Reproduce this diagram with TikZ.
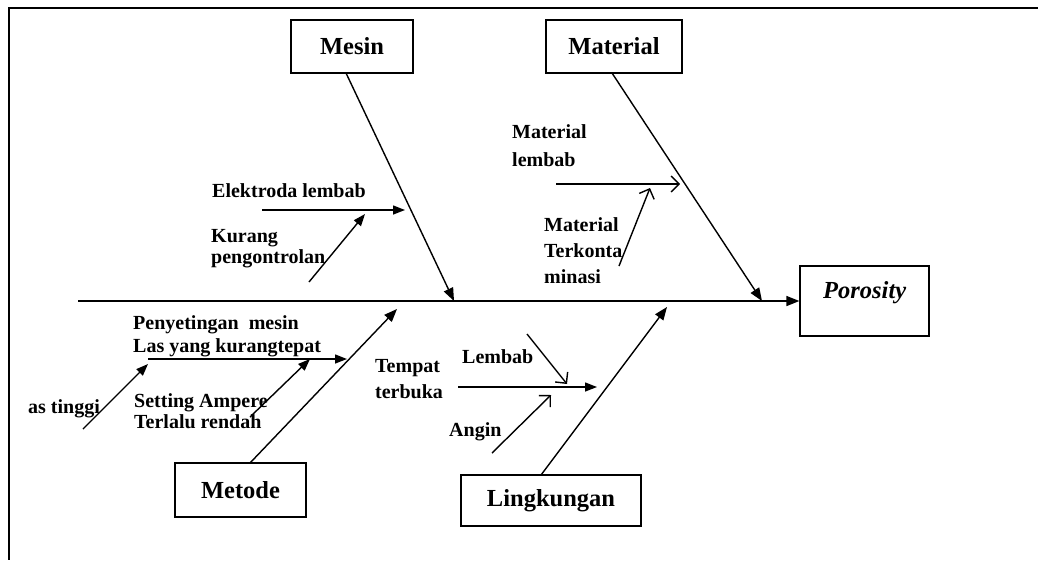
\documentclass[tikz,border=0pt]{standalone}
\usepackage{fontspec}
\setmainfont{Liberation Serif}
\usetikzlibrary{arrows.meta}
\begin{document}
\begin{tikzpicture}[x=1pt,y=-1pt,
  catbox/.style={draw,line width=1.2pt,rectangle,inner sep=0pt,font=\fontsize{24.5}{28}\selectfont\bfseries},
  bone/.style={line width=1.4pt,-{Triangle[length=13pt,width=10pt]}},
  sub/.style={line width=1.4pt,-{Triangle[length=12pt,width=9pt]}},
  opensub/.style={line width=1.4pt,-{Straight Barb[length=8pt,width=16pt,line width=1.4pt]}},
  lbl/.style={anchor=base west,inner sep=0pt,align=left,font=\fontsize{20}{#1}\selectfont\bfseries},
  lbl/.default=24]
\useasboundingbox (0,0) rectangle (1038,560);
% frame
\coordinate (ftl) at (9,8);
\coordinate (ftr) at (1038,8);
\coordinate (fbl) at (9,560);
\draw[line width=1.6pt] (ftr) -- (ftl) -- (fbl);

% category boxes
\node[catbox,minimum width=122pt,minimum height=53pt] (mesin) at (352,46.5) {Mesin};
\node[catbox,minimum width=136pt,minimum height=53pt] (material) at (614,46.5) {Material};
\node[catbox,minimum width=131pt,minimum height=54pt] (metode) at (240.5,490) {Metode};
\node[catbox,minimum width=180pt,minimum height=51pt] (lingk) at (551,500.5) {Lingkungan};
\node[draw,line width=1.2pt,rectangle,minimum width=129pt,minimum height=70pt,inner sep=0pt] (poro) at (864.5,301) {};
\node[anchor=base west,inner sep=0pt,font=\fontsize{24.5}{28}\selectfont\bfseries\itshape] (porot) at (823,298) {Porosity};

% spine
\coordinate (spine0) at (78,301);
\draw[bone] (spine0) -- (poro.west);

% main bones
\coordinate (mesinS) at (346,73);
\coordinate (mesinE) at (454,301);
\draw[bone] (mesinS) -- (mesinE);
\coordinate (matS) at (612,73);
\coordinate (matE) at (762,301);
\draw[bone] (matS) -- (matE);
\coordinate (metS) at (250,463);
\coordinate (metE) at (397,309);
\draw[bone] (metS) -- (metE);
\coordinate (linS) at (541,475);
\coordinate (linE) at (667,307);
\draw[bone] (linS) -- (linE);

% Mesin causes
\node[lbl] (t1) at (212,197) {Elektroda lembab};
\coordinate (a1s) at (262,210);
\coordinate (a1e) at (405,210);
\draw[sub] (a1s) -- (a1e);
\node[lbl=21] (t2) at (211,263) {Kurang\\pengontrolan};
\coordinate (a2s) at (309,282);
\coordinate (a2e) at (365,214);
\draw[sub] (a2s) -- (a2e);

% Material causes
\node[lbl=28] (t3) at (512,166) {Material\\lembab};
\coordinate (a3s) at (556,184);
\coordinate (a3e) at (680,184);
\draw[opensub] (a3s) -- (a3e);
\node[lbl=26] (t4) at (544,283) {Material\\Terkonta\\minasi};
\coordinate (a4s) at (619,266);
\coordinate (a4e) at (650,188);
\draw[opensub] (a4s) -- (a4e);

% Metode causes
\node[lbl=23] (t5) at (133,352) {Penyetingan~ mesin\\Las yang kurangtepat};
\coordinate (a5s) at (148,359);
\coordinate (a5e) at (347,359);
\draw[sub] (a5s) -- (a5e);
\node[lbl] (t6) at (28,413) {as tinggi};
\coordinate (a6s) at (83,429);
\coordinate (a6e) at (148,364);
\draw[sub] (a6s) -- (a6e);
\node[lbl=21] (t7) at (134,428) {Setting Ampere\\Terlalu rendah};
\coordinate (a7s) at (250,417);
\coordinate (a7e) at (310,359);
\draw[sub] (a7s) -- (a7e);

% Lingkungan causes
\node[lbl=26] (t8) at (375,398) {Tempat\\terbuka};
\coordinate (a8s) at (458,387);
\coordinate (a8e) at (597,387);
\draw[sub] (a8s) -- (a8e);
\node[lbl] (t9) at (462,363) {Lembab};
\coordinate (a9s) at (527,334);
\coordinate (a9e) at (567,384);
\draw[opensub] (a9s) -- (a9e);
\node[lbl] (t10) at (449,436) {Angin};
\coordinate (a10s) at (492,453);
\coordinate (a10e) at (551,395);
\draw[opensub] (a10s) -- (a10e);
\end{tikzpicture}
\end{document}
